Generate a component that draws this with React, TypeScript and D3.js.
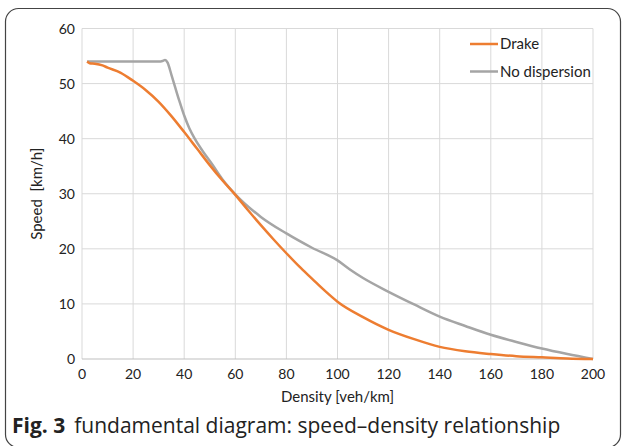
import React from "react";
import * as d3 from "d3";

const xTicks = [0, 20, 40, 60, 80, 100, 120, 140, 160, 180, 200];
const yTicks = [0, 10, 20, 30, 40, 50, 60];

const drakeDensity = [2, 3, 5, 8, 10, 15, 20, 25, 30, 35, 40, 45, 50, 55, 60, 65, 70, 75, 80, 85, 90, 95, 100, 110, 120, 130, 140, 150, 160, 170, 180, 190, 200];
const drakeSpeed = [54.0, 53.7, 53.6, 53.3, 52.9, 52.0, 50.5, 48.8, 46.7, 44.1, 41.2, 38.2, 35.2, 32.4, 29.8, 27.0, 24.3, 21.7, 19.2, 16.8, 14.6, 12.4, 10.4, 7.6, 5.3, 3.6, 2.2, 1.4, 0.9, 0.5, 0.3, 0.1, 0.0];

const noDispDensity = [2, 10, 20, 30, 31.5, 32.5, 33.5, 35, 38, 40, 42, 44, 47, 51, 55, 60, 70, 80, 90, 100, 105, 110, 120, 130, 140, 150, 160, 170, 180, 190, 200];
const noDispSpeed = [54.0, 54.0, 54.0, 54.0, 54.1, 54.3, 53.8, 51.6, 47.0, 44.2, 41.9, 40.1, 37.9, 35.3, 32.6, 29.9, 25.8, 22.8, 20.2, 17.9, 16.2, 14.7, 12.2, 9.9, 7.7, 6.0, 4.4, 3.1, 1.9, 0.9, 0.0];

const seriesNames = ["Drake", "No dispersion"];
const seriesColors = ["#ED7D31", "#A5A5A5"];

export default function App() {
  const W = 624, H = 446;
  const x = d3.scaleLinear().domain([0, 200]).range([82, 593]);
  const y = d3.scaleLinear().domain([0, 60]).range([359, 28.5]);
  const line = d3
    .line<[number, number]>()
    .x((d) => x(d[0]))
    .y((d) => y(d[1]))
    .curve(d3.curveMonotoneX);
  const drake = drakeDensity.map((d, i) => [d, drakeSpeed[i]] as [number, number]);
  const nod = noDispDensity.map((d, i) => [d, noDispSpeed[i]] as [number, number]);
  const font = "Lato, 'Open Sans', sans-serif";
  return (
    <svg width={W} height={H} style={{ position: "absolute", left: 0, top: 0, background: "#fff" }}>
      <rect x={0} y={0} width={W} height={H} fill="#fff" />
      <rect x={5.5} y={8.5} width={615} height={439} rx={13} ry={13} fill="none" stroke="#444" strokeWidth={1.2} />
      {xTicks.map((t) => (
        <line key={"gx" + t} x1={x(t)} x2={x(t)} y1={y(0)} y2={y(60)} stroke="#D9D9D9" strokeWidth={1} />
      ))}
      {yTicks.map((t) => (
        <line key={"gy" + t} x1={x(0)} x2={x(200)} y1={y(t)} y2={y(t)} stroke={t === 0 ? "#BFBFBF" : "#D9D9D9"} strokeWidth={1} />
      ))}
      {xTicks.map((t) => (
        <text key={"tx" + t} x={x(t)} y={379} textAnchor="middle" fontFamily={font} fontSize={14} fill="#222">
          {t}
        </text>
      ))}
      {yTicks.map((t) => (
        <text key={"ty" + t} x={75} y={y(t) + 5} textAnchor="end" fontFamily={font} fontSize={14} fill="#222">
          {t}
        </text>
      ))}
      <path d={line(nod) || ""} fill="none" stroke={seriesColors[1]} strokeWidth={2.5} />
      <path d={line(drake) || ""} fill="none" stroke={seriesColors[0]} strokeWidth={2.5} />
      <text x={x(100)} y={402} textAnchor="middle" fontFamily={font} fontSize={15} fill="#222">
        Density [veh/km]
      </text>
      <text
        transform={`translate(42, ${y(30)}) rotate(-90)`}
        textAnchor="middle"
        fontFamily={font}
        fontSize={15}
        fill="#222"
        style={{ whiteSpace: "pre" }}
      >
        {"Speed  [km/h]"}
      </text>
      {seriesNames.map((n, i) => (
        <g key={n}>
          <line x1={470} x2={498} y1={44 + i * 27.5} y2={44 + i * 27.5} stroke={seriesColors[i]} strokeWidth={2.5} />
          <text x={500} y={49 + i * 27.5} fontFamily={font} fontSize={15} fill="#222">
            {n}
          </text>
        </g>
      ))}
      <text x={12} y={433} fontFamily="'Open Sans', 'Noto Sans', sans-serif" fontSize={21} fill="#222">
        <tspan fontWeight="bold">Fig. 3</tspan>
        <tspan dx={9}>fundamental diagram: speed–density relationship</tspan>
      </text>
    </svg>
  );
}
